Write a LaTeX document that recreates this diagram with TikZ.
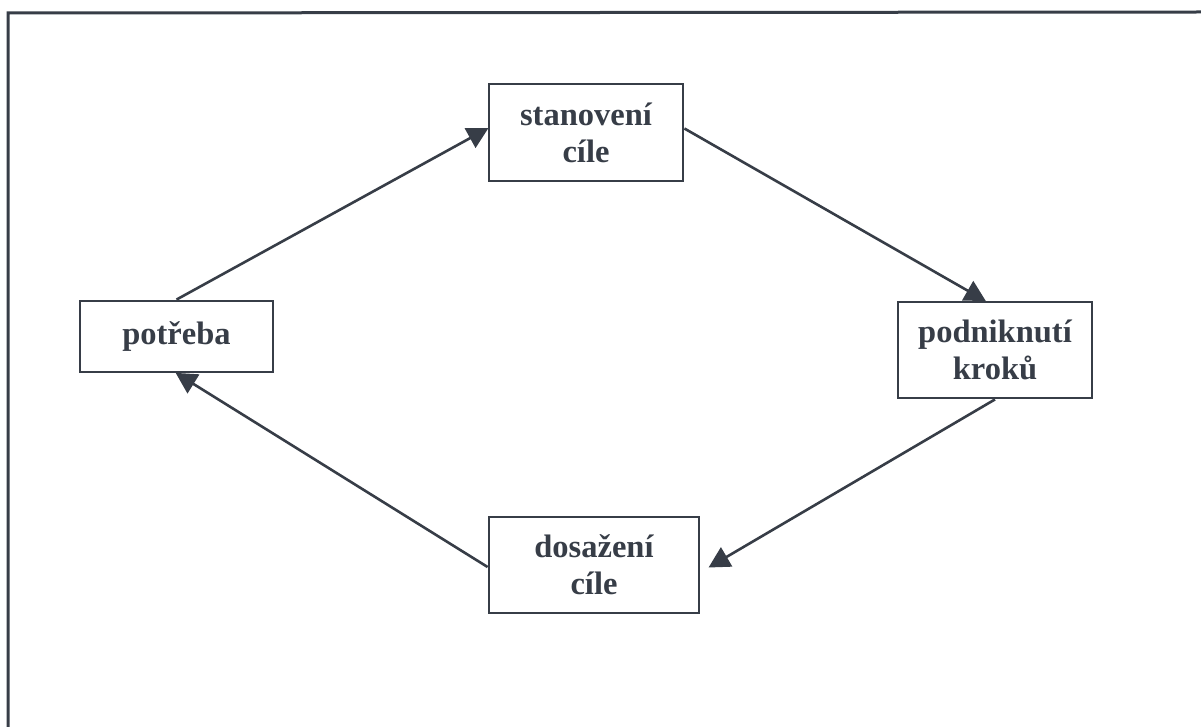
\documentclass[tikz,border=0pt]{standalone}
\usepackage{fontspec}
\setmainfont{Liberation Serif}
\usetikzlibrary{arrows.meta}
\definecolor{ink}{HTML}{373D47}
\begin{document}
\begin{tikzpicture}[x=1pt,y=-1pt,
  box/.style={draw=ink, line width=2.8pt, text=ink, align=center, inner sep=0pt,
    font=\fontsize{32.5}{37}\selectfont\bfseries},
  conn/.style={draw=ink, line width=2.6pt, -{Triangle[length=21pt,width=22pt]}, shorten >=-1pt}]
\useasboundingbox (0,0) rectangle (1201,727);
\coordinate (fa) at (8,727);
\coordinate (fb) at (8,13);
\coordinate (fc) at (1201,12);
\draw[ink, line width=3pt] (fa) -- (fb) -- (fc);
\node[box, minimum width=194pt, minimum height=97pt] (stan) at (586,132.5) {stanovení\\cíle};
\node[box, minimum width=193pt, minimum height=71pt] (pot) at (176.5,336.5) {potřeba};
\node[box, minimum width=194pt, minimum height=96pt] (pod) at (995,350) {podniknutí\\kroků};
\node[box, minimum width=210pt, minimum height=96pt] (dos) at (594,565) {dosažení\\cíle};
\draw[conn] (pot.north) -- ([yshift=4pt]stan.west);
\draw[conn] ([yshift=4pt]stan.east) -- ([xshift=-10pt]pod.north);
\draw[conn] (pod.south) -- ([xshift=9pt,yshift=-2pt]dos.east);
\draw[conn] ([yshift=-2pt]dos.west) -- (pot.south);
\end{tikzpicture}
\end{document}
